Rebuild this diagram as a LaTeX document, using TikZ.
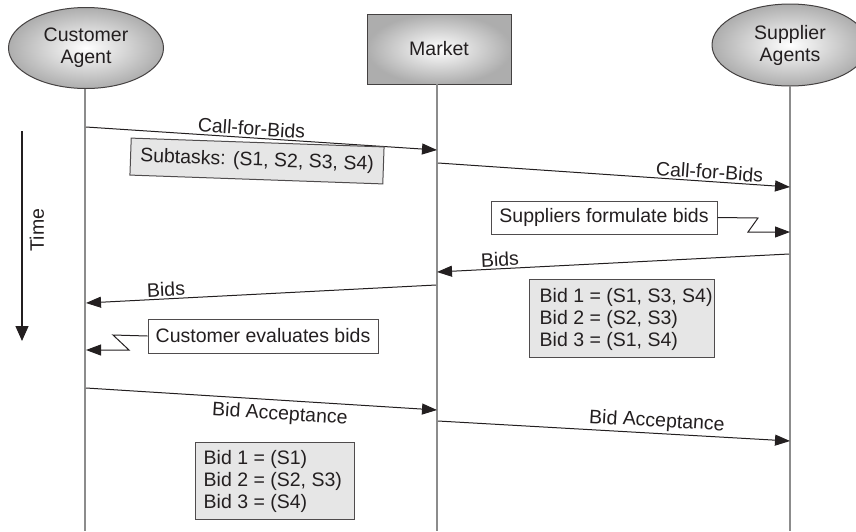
\documentclass[tikz,border=0pt]{standalone}
\usepackage{fontspec}
\setmainfont{Liberation Sans}
\usetikzlibrary{arrows.meta,shapes.geometric}
\definecolor{ink}{HTML}{231F20}
\definecolor{boxgray}{HTML}{E6E6E6}
\definecolor{lifegray}{HTML}{8C8C8C}
\begin{document}
\begin{tikzpicture}[x=1pt,y=-1pt,
  every node/.style={font=\fontsize{19.5}{22}\selectfont, text=ink},
  head/.style={draw=ink!85, line width=1pt, shading=radial, inner color=white, outer color=black!32},
  lifeline/.style={draw=lifegray, line width=1.6pt},
  msg/.style={draw=ink, line width=1pt, -{Triangle[length=15pt,width=11pt]}},
  graybox/.style={draw=ink!80, line width=1pt, fill=boxgray, inner sep=0pt},
  whitebox/.style={draw=ink!80, line width=1pt, fill=white, inner sep=0pt},
  lbl/.style={sloped, inner sep=2pt}
]
\useasboundingbox (0,0) rectangle (856,531);
\begin{scope}
\clip (0,0) rectangle (856,531);
% heads
\node[head, ellipse, minimum width=155pt, minimum height=81pt, inner sep=0pt, align=center] (cust) at (86,48) {Customer\\Agent};
\node[head, rectangle, minimum width=144pt, minimum height=70pt, inner sep=0pt] (mkt) at (439,49) {Market};
\node[head, ellipse, minimum width=156pt, minimum height=82pt, inner sep=0pt, align=center] (sup) at (790,45) {Supplier\\Agents};
\end{scope}
% lifeline coordinates
\coordinate (cb) at (85,531);
\coordinate (mb) at (437,531);
\coordinate (sb) at (790,531);
\coordinate (ct) at (85,89);
\coordinate (mt) at (437,84);
\coordinate (st) at (790,86);
\draw[lifeline] (ct) -- (cb);
\draw[lifeline] (mt) -- (mb);
\draw[lifeline] (st) -- (sb);
% message endpoints
\coordinate (c1) at (86,127); \coordinate (m1) at (437,150);
\coordinate (m2) at (438,163); \coordinate (s2) at (790,187);
\coordinate (s4) at (789,254); \coordinate (m4) at (437,272);
\coordinate (m5) at (436,285); \coordinate (c5) at (86,303);
\coordinate (c6) at (86,388); \coordinate (m6) at (437,410);
\coordinate (m7) at (438,421); \coordinate (s7) at (790,441);
% messages
\draw[msg] (c1) -- node[lbl, above, pos=0.47] (l1) {Call-for-Bids} (m1);
\draw[msg] (m2) -- node[lbl, above, pos=0.77] (l2) {Call-for-Bids} (s2);
\draw[msg] (s4) -- node[lbl, above, pos=0.82] (l4) {Bids} (m4);
\draw[msg] (m5) -- node[lbl, above, pos=0.77] (l5) {Bids} (c5);
\draw[msg] (c6) -- node[lbl, below, pos=0.555, yshift=-3pt] (l6) {Bid Acceptance} (m6);
\draw[msg] (m7) -- node[lbl, above, pos=0.62] (l7) {Bid Acceptance} (s7);
% subtasks box
\node[graybox, rotate=-2, minimum width=253pt, minimum height=37pt] (sub) at (257,161) {Subtasks: (S1, S2, S3, S4)};
% suppliers formulate
\node[whitebox, minimum width=226pt, minimum height=33pt] (form) at (604,217.5) {Suppliers formulate bids};
\coordinate (z1) at (758,218); \coordinate (z2) at (748,232); \coordinate (s3) at (790,232);
\draw[msg] (form.east) -- (z1) -- (z2) -- (s3);
% customer evaluates
\node[whitebox, minimum width=230pt, minimum height=34pt] (eval) at (263,336) {Customer evaluates bids};
\coordinate (y1) at (113,335); \coordinate (y2) at (129,350); \coordinate (c3) at (86,350);
\draw[msg] (eval.west) -- (y1) -- (y2) -- (c3);
% bid boxes
\node[graybox, minimum width=185pt, minimum height=78pt] (bids1) at (621.5,318) {};
\node[anchor=west, align=left, inner sep=0pt] (bids1t) at ([xshift=11pt,yshift=-1pt]bids1.west) {Bid 1 = (S1, S3, S4)\\Bid 2 = (S2, S3)\\Bid 3 = (S1, S4)};
\node[graybox, minimum width=159pt, minimum height=77pt] (bids2) at (274.5,480.5) {};
\node[anchor=west, align=left, inner sep=0pt] (bids2t) at ([xshift=9pt,yshift=-1pt]bids2.west) {Bid 1 = (S1)\\Bid 2 = (S2, S3)\\Bid 3 = (S4)};
% time arrow
\coordinate (t0) at (22,131); \coordinate (t1) at (22,341);
\draw[draw=ink, line width=1.3pt, -{Triangle[length=15pt,width=13pt]}] (t0) -- (t1);
\node[rotate=90] (time) at (37,230) {Time};
\end{tikzpicture}
\end{document}
